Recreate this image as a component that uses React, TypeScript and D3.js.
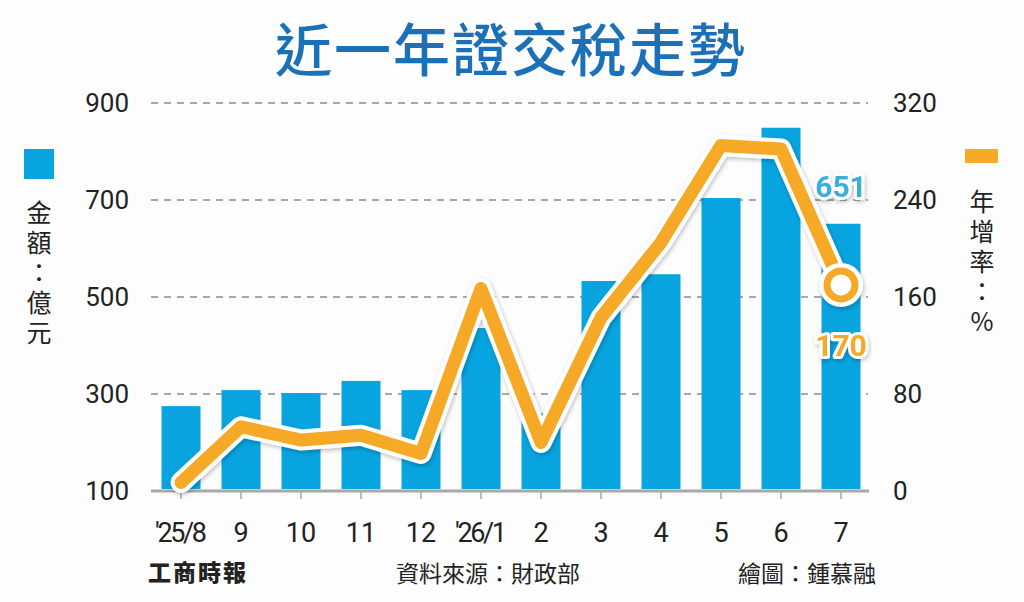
import { useEffect, useRef } from 'react';
import * as d3 from 'd3';

const months = ["'25/8", '9', '10', '11', '12', "'26/1", '2', '3', '4', '5', '6', '7'];
// 金額 (億元)
const amount = [275, 308, 302, 327, 308, 436, 260, 533, 547, 704, 849, 651];
// 年增率 (%)
const growth = [7, 53, 42, 46, 31, 167, 40, 143, 205, 285, 282, 170];

const leftTicks = [100, 300, 500, 700, 900];
const rightTicks = [0, 80, 160, 240, 320];

const BLUE = '#07a4df';
const ORANGE = '#f5a928';
const NUM_FONT = 'Roboto, "Noto Sans", sans-serif';
const CJK_FONT = '"Noto Sans CJK TC", "Noto Sans CJK SC", sans-serif';

export default function App() {
  const svgRef = useRef<SVGSVGElement>(null);

  useEffect(() => {
    if (!svgRef.current) return;
    const svg = d3.select(svgRef.current);
    svg.selectAll('*').remove();

    const width = 1024;
    const height = 602;
    const left = 151;
    const right = 871;
    const top = 103;
    const bottom = 491;

    svg.attr('width', width).attr('height', height);

    const defs = svg.append('defs');
    const shadow = defs
      .append('filter')
      .attr('id', 'shadow')
      .attr('x', '-10%')
      .attr('y', '-10%')
      .attr('width', '120%')
      .attr('height', '120%');
    shadow
      .append('feDropShadow')
      .attr('dx', 1)
      .attr('dy', 2)
      .attr('stdDeviation', 2)
      .attr('flood-color', '#000')
      .attr('flood-opacity', 0.25);

    svg.append('rect').attr('width', width).attr('height', height).attr('fill', '#fdfdfd');

    const x = d3.scaleBand<string>().domain(months).range([left, right]).paddingInner(0.35).paddingOuter(0.175);
    const yL = d3.scaleLinear().domain([100, 900]).range([bottom, top]);
    const yR = d3.scaleLinear().domain([0, 320]).range([bottom, top]);
    const cx = (m: string) => (x(m) as number) + x.bandwidth() / 2;

    // Title
    svg
      .append('text')
      .attr('x', 511)
      .attr('y', 71)
      .attr('text-anchor', 'middle')
      .style('font-family', CJK_FONT)
      .style('font-weight', 500)
      .style('font-size', '57px')
      .style('letter-spacing', '2px')
      .attr('fill', '#1b70b8')
      .text('近一年證交稅走勢');

    // Gridlines
    svg
      .append('g')
      .selectAll('line')
      .data(leftTicks.filter((d) => d !== 100))
      .enter()
      .append('line')
      .attr('x1', left)
      .attr('x2', right - 3)
      .attr('y1', (d) => yL(d))
      .attr('y2', (d) => yL(d))
      .attr('stroke', '#8c8c8c')
      .attr('stroke-width', 1.4)
      .attr('stroke-dasharray', '7 6');

    // Left axis labels
    svg
      .append('g')
      .selectAll('text')
      .data(leftTicks)
      .enter()
      .append('text')
      .attr('x', 129)
      .attr('y', (d) => yL(d))
      .attr('dy', '0.36em')
      .attr('text-anchor', 'end')
      .style('font-family', NUM_FONT)
      .style('font-size', '26px')
      .attr('fill', '#222')
      .text((d) => d);

    // Right axis labels
    svg
      .append('g')
      .selectAll('text')
      .data(rightTicks)
      .enter()
      .append('text')
      .attr('x', 893)
      .attr('y', (d) => yR(d))
      .attr('dy', '0.36em')
      .attr('text-anchor', 'start')
      .style('font-family', NUM_FONT)
      .style('font-size', '26px')
      .attr('fill', '#222')
      .text((d) => d);

    // Bars
    svg
      .append('g')
      .selectAll('rect')
      .data(months)
      .enter()
      .append('rect')
      .attr('x', (d) => x(d) as number)
      .attr('width', x.bandwidth())
      .attr('y', (_, i) => yL(amount[i]))
      .attr('height', (_, i) => bottom - 2 - yL(amount[i]))
      .attr('fill', BLUE);

    // X axis
    svg
      .append('line')
      .attr('x1', left)
      .attr('x2', right - 2)
      .attr('y1', bottom)
      .attr('y2', bottom)
      .attr('stroke', '#a8a8a8')
      .attr('stroke-width', 3);

    svg
      .append('g')
      .selectAll('line')
      .data(months)
      .enter()
      .append('line')
      .attr('x1', (d) => cx(d))
      .attr('x2', (d) => cx(d))
      .attr('y1', bottom)
      .attr('y2', bottom + 8)
      .attr('stroke', '#a8a8a8')
      .attr('stroke-width', 1.5);

    svg
      .append('g')
      .selectAll('text')
      .data(months)
      .enter()
      .append('text')
      .attr('x', (d) => cx(d))
      .attr('y', 542)
      .attr('text-anchor', 'middle')
      .style('font-family', NUM_FONT)
      .style('font-size', '27px')
      .attr('fill', '#222')
      .attr('textLength', (d) => (d.length > 2 ? 52 : null))
      .text((d) => d);

    // Growth line
    const pts = months.map((m, i) => [cx(m), yR(growth[i])] as [number, number]);
    const line = d3.line();
    const lineG = svg.append('g').attr('filter', 'url(#shadow)');
    lineG
      .append('path')
      .attr('d', line(pts))
      .attr('fill', 'none')
      .attr('stroke', '#fff')
      .attr('stroke-width', 21)
      .attr('stroke-linejoin', 'round')
      .attr('stroke-linecap', 'round');
    lineG
      .append('path')
      .attr('d', line(pts))
      .attr('fill', 'none')
      .attr('stroke', ORANGE)
      .attr('stroke-width', 13)
      .attr('stroke-linejoin', 'round')
      .attr('stroke-linecap', 'round');

    // Last point marker
    const last = pts[pts.length - 1];
    lineG.append('circle').attr('cx', last[0]).attr('cy', last[1]).attr('r', 22).attr('fill', '#fff');
    lineG
      .append('circle')
      .attr('cx', last[0])
      .attr('cy', last[1])
      .attr('r', 14)
      .attr('fill', '#fff')
      .attr('stroke', ORANGE)
      .attr('stroke-width', 7);

    // Value labels
    const lastM = months[months.length - 1];
    const valueLabel = (txt: string, y: number, color: string) =>
      svg
        .append('text')
        .attr('x', cx(lastM))
        .attr('y', y)
        .attr('dy', '0.36em')
        .attr('text-anchor', 'middle')
        .attr('filter', 'url(#shadow)')
        .style('font-family', NUM_FONT)
        .style('font-weight', 700)
        .style('font-size', '30px')
        .style('paint-order', 'stroke')
        .attr('stroke', '#fff')
        .attr('stroke-width', 6)
        .attr('stroke-linejoin', 'round')
        .attr('fill', color)
        .text(txt);
    valueLabel(String(amount[amount.length - 1]), yL(amount[amount.length - 1]) - 38, '#3aaede');
    valueLabel(String(growth[growth.length - 1]), yR(growth[growth.length - 1]) + 60, ORANGE);

    // Legends
    svg.append('rect').attr('x', 24).attr('y', 149).attr('width', 30).attr('height', 30).attr('fill', BLUE);
    svg.append('rect').attr('x', 965).attr('y', 149).attr('width', 33).attr('height', 14).attr('fill', ORANGE);

    // Vertical legend captions
    const vertical = (txt: string, cxPos: number, y0: number) => {
      svg
        .append('text')
        .attr('x', cxPos)
        .attr('y', y0)
        .style('writing-mode', 'vertical-rl')
        .style('text-orientation', 'upright')
        .style('letter-spacing', '5px')
        .style('font-family', CJK_FONT)
        .style('font-size', '25px')
        .attr('fill', '#222')
        .text(txt);
    };
    vertical('金額：億元', 39, 200);
    vertical('年增率：%', 982, 189);

    // Footer
    svg
      .append('text')
      .attr('x', 148)
      .attr('y', 581)
      .style('font-family', CJK_FONT)
      .style('font-weight', 900)
      .style('font-size', '23px')
      .attr('fill', '#222')
      .attr('textLength', 98)
      .text('工商時報');
    svg
      .append('text')
      .attr('x', 488)
      .attr('y', 582)
      .attr('text-anchor', 'middle')
      .style('font-family', CJK_FONT)
      .style('font-size', '23px')
      .attr('fill', '#222')
      .text('資料來源：財政部');
    svg
      .append('text')
      .attr('x', 876)
      .attr('y', 582)
      .attr('text-anchor', 'end')
      .style('font-family', CJK_FONT)
      .style('font-size', '23px')
      .attr('fill', '#222')
      .text('繪圖：鍾慕融');
  }, []);

  return (
    <div style={{ position: 'absolute', left: 0, top: 0 }}>
      <svg ref={svgRef} style={{ display: 'block' }} />
    </div>
  );
}
